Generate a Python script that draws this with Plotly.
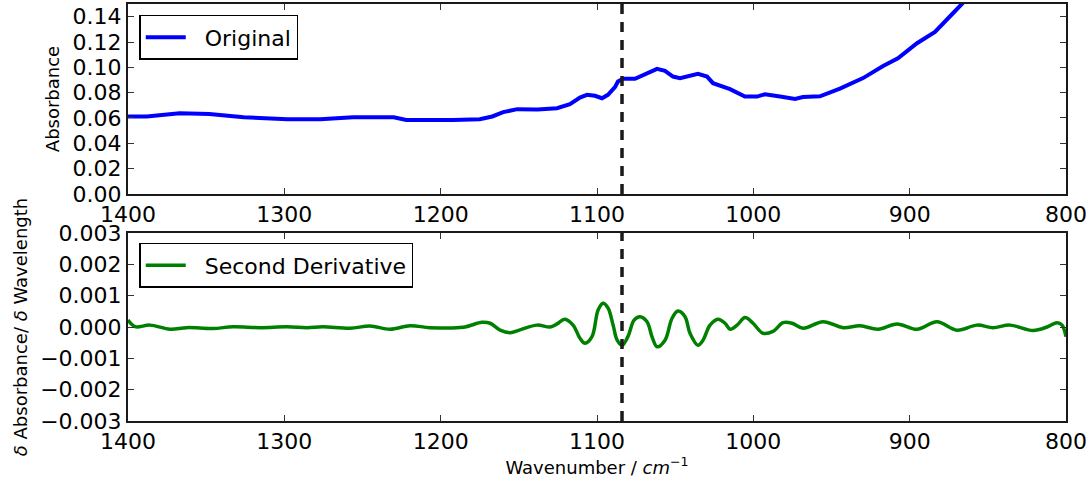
import plotly.graph_objects as go
from plotly.subplots import make_subplots

# Top panel: original absorbance spectrum
wn_orig = [1400, 1388, 1367, 1348, 1326, 1298, 1277, 1256, 1230, 1222, 1192, 1175,
           1167, 1160, 1151, 1138, 1125.6, 1117.3, 1110.9, 1106.4, 1101.3, 1096.8,
           1093, 1088.5, 1086.6, 1083.4, 1075.7, 1068, 1061.6, 1056.5, 1051.4, 1046.9,
           1041.8, 1035.4, 1029.6, 1025.8, 1014.9, 1005.4, 997.6, 992.5, 982.9, 973.3,
           968.3, 957.4, 944.6, 929.8, 917, 907.5, 895.3, 883.8, 872.3, 867.8, 862, 855]
absorb = [0.0611, 0.0612, 0.0638, 0.0632, 0.0606, 0.0590, 0.0590, 0.0606, 0.0606, 0.0585,
          0.0585, 0.0590, 0.0612, 0.0646, 0.0670, 0.0668, 0.0677, 0.0709, 0.0761, 0.0783,
          0.0775, 0.0756, 0.0783, 0.0843, 0.0888, 0.0909, 0.0909, 0.0949, 0.0988, 0.0972,
          0.0927, 0.0915, 0.0933, 0.0949, 0.0927, 0.0875, 0.0828, 0.0769, 0.0769, 0.0788,
          0.0769, 0.0751, 0.0766, 0.0771, 0.0832, 0.0915, 0.1010, 0.1072, 0.1190, 0.1280,
          0.1427, 0.1490, 0.1560, 0.1650]

# Bottom panel: second derivative
wn_d2 = [1400, 1395.5, 1385.9, 1373.1, 1362.3, 1345.6, 1332.8, 1315.6, 1298.3, 1285.5,
         1275.3, 1258, 1245.2, 1232.4, 1219.6, 1206.8, 1185.7, 1173.6, 1168.4, 1162,
         1155.6, 1149.2, 1138.4, 1130, 1125.6, 1120.5, 1115.3, 1110.9, 1107.7, 1103.2,
         1099.3, 1096.1, 1092.9, 1089.7, 1087.1, 1083.9, 1080.1, 1076.3, 1072.5, 1068,
         1064.8, 1061.6, 1056.5, 1052, 1048.2, 1043.7, 1040.5, 1035.4, 1032.2, 1027.7,
         1022.6, 1018.1, 1014.9, 1010.4, 1005.3, 1000.2, 993.8, 987.4, 981, 975.2,
         968.2, 955.4, 942.6, 931.7, 920.2, 908.1, 895.3, 882.5, 869.7, 856.9,
         846.7, 835.8, 821.1, 812.1, 805.7, 802.5, 800]
deriv2 = [0.00022, 0.00001, 0.00006, -0.00007, -0.00002, -0.00005, 0.00001, -0.00002, 0.00001, -0.00002,
          0.00001, -0.00004, 0.00003, -0.00007, 0.00004, -0.00002, -0.00001, 0.00015, 0.00012, -0.00010,
          -0.00018, -0.00009, 0.00006, 0.00000, 0.00010, 0.00025, 0.00006, -0.00036, -0.00052, -0.00031,
          0.00054, 0.00076, 0.00060, 0.00006, -0.00042, -0.00058, -0.00029, 0.00022, 0.00033, 0.00017,
          -0.00031, -0.00063, -0.00042, 0.00028, 0.00051, 0.00033, -0.00020, -0.00058, -0.00042, 0.00006,
          0.00025, 0.00012, -0.00007, 0.00006, 0.00030, 0.00012, -0.00020, -0.00014, 0.00014, 0.00012,
          -0.00004, 0.00017, -0.00002, 0.00004, -0.00007, 0.00010, -0.00007, 0.00017, -0.00010, 0.00006,
          -0.00002, 0.00006, -0.00011, 0.00000, 0.00014, 0.00006, -0.00031]

marker_wn = 1084

top_yticks = [0.00, 0.02, 0.04, 0.06, 0.08, 0.10, 0.12, 0.14]
bot_yticks = [-0.003, -0.002, -0.001, 0.0, 0.001, 0.002, 0.003]
xticks = [1400, 1300, 1200, 1100, 1000, 900, 800]

FONT = "DejaVu Sans"
fig = make_subplots(rows=2, cols=1, vertical_spacing=0.0)

fig.add_trace(go.Scatter(x=wn_orig, y=absorb, mode="lines", name="\u00a0\u00a0Original",
                         showlegend=True,
                         line=dict(color="#0000ff", width=4), legend="legend"), row=1, col=1)
fig.add_trace(go.Scatter(x=wn_d2, y=deriv2, mode="lines", name="\u00a0\u00a0Second Derivative",
                         showlegend=True,
                         line=dict(color="#008000", width=3.5, shape="spline"), legend="legend2"),
              row=2, col=1)

axis_common = dict(showline=True, linecolor="#1a1a1a", linewidth=2, mirror="ticks",
                   ticks="inside", ticklen=6, tickwidth=1, tickcolor="#333333",
                   showgrid=False, zeroline=False, automargin=False,
                   tickfont=dict(family=FONT, size=22, color="black"))

fig.update_xaxes(**axis_common, range=[1400, 800], tickvals=xticks, ticktext=[str(t) for t in xticks])
fig.update_xaxes(domain=[0, 1], row=1, col=1)
fig.update_xaxes(domain=[0, 1], row=2, col=1,
                 title=dict(text="Wavenumber / <i>cm</i><sup>−1</sup>",
                            font=dict(family=FONT, size=18, color="black"), standoff=8))

fig.update_yaxes(**axis_common)
fig.update_yaxes(row=1, col=1, domain=[0.5444, 1.0], range=[0, 0.15], tickvals=top_yticks,
                 tickformat=".2f",
                 title=dict(text="Absorbance", font=dict(family=FONT, size=18, color="black"),
                            standoff=8))
fig.update_yaxes(row=2, col=1, domain=[0.0, 0.4508], range=[-0.003, 0.003], tickvals=bot_yticks,
                 tickformat=".3f",
                 title=dict(text="<i>δ</i> Absorbance/ <i>δ</i> Wavelength",
                            font=dict(family=FONT, size=18, color="black"), standoff=8))

# vertical dashed marker in each panel
for yref in ["y domain", "y2 domain"]:
    xref = "x" if yref == "y domain" else "x2"
    fig.add_shape(type="line", xref=xref, yref=yref, x0=marker_wn, x1=marker_wn, y0=0, y1=1,
                  line=dict(color="#1a1a1a", width=3.5, dash="10px,8px"))

legend_common = dict(bgcolor="white", bordercolor="black", borderwidth=1.5,
                     font=dict(family=FONT, size=22, color="black"),
                     xanchor="left", yanchor="top", itemwidth=40, tracegroupgap=0,
                     visible=True)
fig.update_layout(
    showlegend=True,
    legend=dict(**legend_common, x=0.012, y=0.974),
    legend2=dict(**legend_common, x=0.012, y=0.427),
    width=1091, height=485,
    margin=dict(l=128, r=25, t=4, b=64, autoexpand=False),
    plot_bgcolor="white", paper_bgcolor="white",
    font=dict(family=FONT, color="black"),
)

fig.write_html("out.html")
